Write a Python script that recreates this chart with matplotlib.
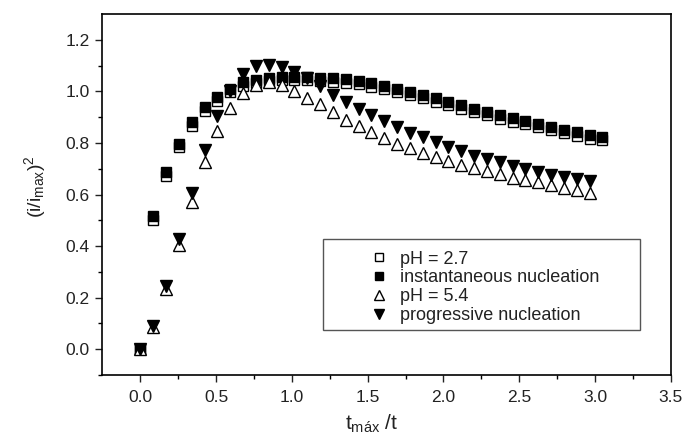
'''
 Chronoamperometric transients vs. theoretical nucleation models
'''

import matplotlib
matplotlib.use('Agg')
import matplotlib.pyplot as plt
from matplotlib.lines import Line2D
from matplotlib.patches import Rectangle

plt.rcParams['font.family'] = ['Liberation Sans', 'DejaVu Sans']
plt.rcParams['mathtext.fontset'] = 'custom'
plt.rcParams['mathtext.rm'] = 'Liberation Sans'
plt.rcParams['mathtext.it'] = 'Liberation Sans'
plt.rcParams['mathtext.default'] = 'regular'

# t_max/t values for the square series (37 points) and triangles (36 points)
x_squares = [0.0, 0.085, 0.169, 0.254, 0.339, 0.424, 0.508, 0.593, 0.678,
             0.762, 0.847, 0.932, 1.016, 1.101, 1.186, 1.271, 1.355, 1.44,
             1.525, 1.609, 1.694, 1.779, 1.863, 1.948, 2.033, 2.118, 2.202,
             2.287, 2.372, 2.456, 2.541, 2.626, 2.71, 2.795, 2.88, 2.965,
             3.049]
x_triangles = x_squares[:36]

ph27 = [0.0, 0.50, 0.673, 0.783, 0.867, 0.926, 0.965, 0.998, 1.023, 1.033,
        1.040, 1.043, 1.045, 1.043, 1.040, 1.038, 1.034, 1.029, 1.019, 1.010,
        0.998, 0.985, 0.973, 0.960, 0.947, 0.934, 0.921, 0.908, 0.895, 0.883,
        0.872, 0.862, 0.850, 0.839, 0.828, 0.817, 0.810]
instantaneous = [0.0, 0.515, 0.686, 0.796, 0.880, 0.939, 0.978, 1.011, 1.036,
                 1.046, 1.053, 1.056, 1.058, 1.056, 1.053, 1.051, 1.047,
                 1.042, 1.032, 1.023, 1.011, 0.998, 0.986, 0.973, 0.960,
                 0.947, 0.934, 0.921, 0.908, 0.896, 0.885, 0.875, 0.863,
                 0.852, 0.841, 0.830, 0.823]
ph54 = [0.0, 0.085, 0.232, 0.404, 0.571, 0.725, 0.846, 0.937, 0.996, 1.024,
        1.037, 1.024, 1.0, 0.976, 0.95, 0.92, 0.89, 0.868, 0.842, 0.818,
        0.796, 0.781, 0.76, 0.747, 0.731, 0.715, 0.703, 0.692, 0.679, 0.666,
        0.656, 0.647, 0.637, 0.627, 0.618, 0.608]
progressive = [0.0, 0.09, 0.245, 0.426, 0.608, 0.773, 0.905, 1.0, 1.067,
               1.098, 1.104, 1.095, 1.076, 1.054, 1.02, 0.987, 0.959, 0.933,
               0.909, 0.885, 0.861, 0.84, 0.822, 0.803, 0.786, 0.77, 0.751,
               0.738, 0.725, 0.712, 0.699, 0.688, 0.677, 0.669, 0.66, 0.651]

labels = ['pH = 2.7', 'instantaneous nucleation', 'pH = 5.4',
          'progressive nucleation']

fig = plt.figure(figsize=(6.83, 4.43), dpi=100)
ax = fig.add_axes([0.150, 0.1535, 0.832, 0.8145])

ax.plot(x_squares, ph27, 's', ms=6.5, mfc='white', mec='black', mew=1.0,
        color='black')
ax.plot(x_squares, instantaneous, 's', ms=6.5, mfc='black', mec='black',
        mew=1.0, color='black')
ax.plot(x_triangles, ph54, '^', ms=8, mfc='white', mec='black', mew=1.0,
        color='black')
ax.plot(x_triangles, progressive, 'v', ms=8, mfc='black', mec='black',
        mew=1.0, color='black')

ax.set_xlim(-0.25, 3.5)
ax.set_ylim(-0.1, 1.3)
ax.set_xticks([0.0, 0.5, 1.0, 1.5, 2.0, 2.5, 3.0, 3.5])
ax.set_xticks([0.25, 0.75, 1.25, 1.75, 2.25, 2.75, 3.25], minor=True)
ax.set_yticks([0.0, 0.2, 0.4, 0.6, 0.8, 1.0, 1.2])
ax.set_yticks([-0.1, 0.1, 0.3, 0.5, 0.7, 0.9, 1.1], minor=True)
ax.xaxis.set_major_formatter(matplotlib.ticker.FormatStrFormatter('%.1f'))
ax.yaxis.set_major_formatter(matplotlib.ticker.FormatStrFormatter('%.1f'))
ax.tick_params(which='major', direction='out', length=5, width=1.0,
               labelsize=12.5, colors='#222222', pad=6)
ax.tick_params(which='minor', direction='out', length=3, width=1.0)
ax.tick_params(axis='y', pad=4)
for spine in ax.spines.values():
    spine.set_linewidth(1.2)

ax.set_xlabel('$t_{máx}$ /t', fontsize=15, color='#222222')
ax.xaxis.set_label_coords(0.474, -0.104)
ax.set_ylabel('$(i/i_{max})^2$', fontsize=14, color='#222222')
ax.yaxis.set_label_coords(-0.096, 0.523)

# legend: markers + text without frame, frame drawn separately
handles = [
    Line2D([], [], ls='none', marker='s', ms=6, mfc='white', mec='black'),
    Line2D([], [], ls='none', marker='s', ms=6, mfc='black', mec='black'),
    Line2D([], [], ls='none', marker='^', ms=7, mfc='white', mec='black'),
    Line2D([], [], ls='none', marker='v', ms=7, mfc='black', mec='black'),
]
ax.legend(handles, labels, loc='upper left', bbox_to_anchor=(0.4706, 0.345),
          frameon=False, fontsize=13, handlelength=1.0, handletextpad=0.67,
          labelspacing=0.1, borderpad=0, borderaxespad=0, labelcolor='#222222')
ax.add_patch(Rectangle((0.388, 0.1247), 0.558, 0.251, transform=ax.transAxes,
                       fill=False, edgecolor='#555555', linewidth=1.0))

fig.savefig('out.png', dpi=100)
